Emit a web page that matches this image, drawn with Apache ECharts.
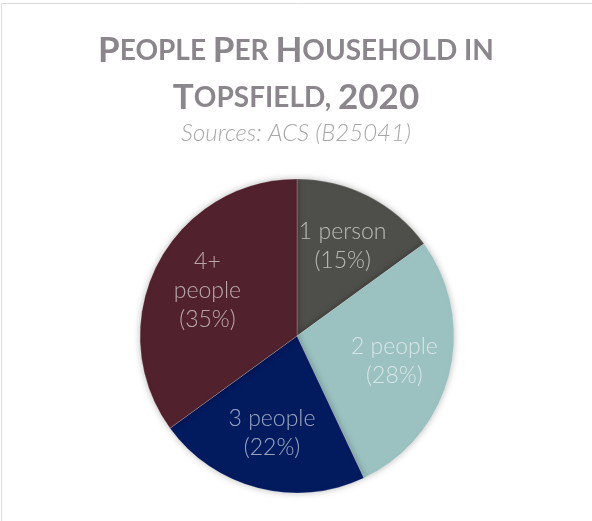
<!DOCTYPE html>
<html>
<head>
<meta charset="utf-8">
<script src="https://cdn.jsdelivr.net/npm/echarts@6/dist/echarts.min.js"></script>
<style>
  html, body { margin: 0; padding: 0; background: #fff; }
  #chart { width: 592px; height: 521px; }
</style>
</head>
<body>
<div id="chart"></div>
<script>
// Household size shares, Topsfield 2020
const categories = ['1 person', '2 people', '3 people', '4+ people'];
const shares = [15, 28, 22, 35];
const sliceColors = ['#4e4e4a', '#9bc1c1', '#021a5e', '#51222d'];

const titleLines = ['People Per Household in', 'Topsfield, 2020'];
const sourceNote = 'Sources: ACS (B25041)';

// Render a phrase in small caps using rich text: capitals and digits full size,
// lowercase letters as smaller capitals.
function smallCaps(line) {
  let out = '';
  let run = '';
  let runBig = null;
  const flush = () => {
    if (run) out += '{' + (runBig ? 'b' : 's') + '|' + run + '}';
    run = '';
  };
  for (const ch of line) {
    const big = /[A-Z0-9]/.test(ch);
    const isSpace = ch === ' ' || ch === ',';
    if (!isSpace && runBig !== null && big !== runBig) flush();
    if (!isSpace) runBig = big;
    run += ch.toUpperCase();
  }
  flush();
  return out;
}

const titleColor = '#8a868b';
const chart = echarts.init(document.getElementById('chart'), null, { renderer: 'canvas' });

const pieData = categories.map((name, i) => ({
  name: name,
  value: shares[i],
  itemStyle: { color: sliceColors[i] }
}));

chart.setOption({
  animation: false,
  graphic: [{
    type: 'rect',
    shape: { x: 1.5, y: 3.5, width: 700, height: 700 },
    style: { fill: 'none', stroke: '#dcdcdc', lineWidth: 1 },
    silent: true
  }],
  title: [{
    text: titleLines.map(smallCaps).join('\n'),
    left: 'center',
    top: 22,
    textStyle: {
      fontFamily: 'Lato',
      lineHeight: 47,
      rich: {
        b: { fontFamily: 'Lato', fontWeight: 'bold', fontSize: 35, color: titleColor, lineHeight: 47 },
        s: { fontFamily: 'Lato', fontWeight: 'bold', fontSize: 28, color: titleColor, lineHeight: 47 }
      }
    }
  }, {
    text: sourceNote,
    left: 'center',
    top: 116,
    textStyle: {
      fontFamily: 'Lato',
      fontStyle: 'italic',
      fontWeight: 300,
      fontSize: 24,
      color: '#a8a8a8'
    }
  }],
  series: [{
    // filled slices
    type: 'pie',
    center: [297, 336],
    radius: [0, 157],
    startAngle: 90,
    clockwise: true,
    label: { show: false },
    labelLine: { show: false },
    itemStyle: {
      borderColor: 'rgba(255,255,255,0.35)',
      borderWidth: 0.6,
      shadowBlur: 7,
      shadowColor: 'rgba(0,0,0,0.28)'
    },
    data: pieData
  }, {
    // label ring: places slice labels at a larger radius than the default
    type: 'pie',
    silent: true,
    center: [297, 336],
    radius: [38, 157],
    startAngle: 90,
    clockwise: true,
    itemStyle: { color: 'rgba(0,0,0,0)' },
    labelLine: { show: false },
    label: {
      show: true,
      position: 'inside',
      fontFamily: 'Lato',
      fontWeight: 300,
      fontSize: 23,
      lineHeight: 29,
      color: 'rgba(255,255,255,0.6)',
      formatter: function (p) {
        const name = p.name === '4+ people' ? '4+\npeople' : p.name;
        return name + '\n(' + Math.round(p.percent) + '%)';
      }
    },
    data: categories.map((name, i) => ({ name: name, value: shares[i] }))
  }]
});
</script>
</body>
</html>
